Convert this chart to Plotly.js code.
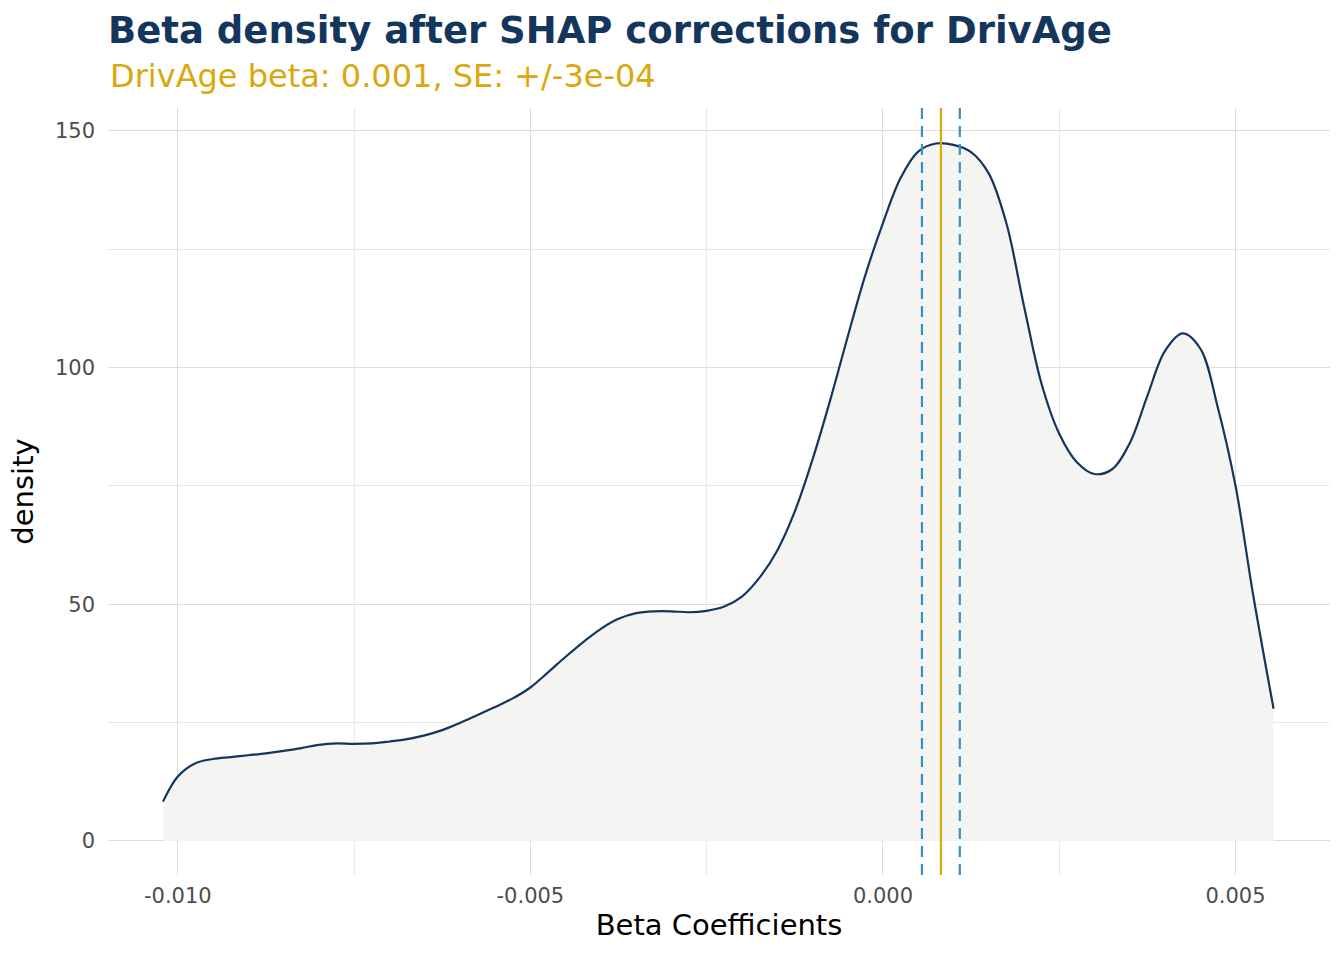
<!DOCTYPE html>
<html>
<head>
<meta charset="utf-8">
<script src="https://cdn.plot.ly/plotly-3.0.1.min.js"></script>
<style>html,body{margin:0;padding:0;background:#fff;}#chart{width:1344px;height:960px;}</style>
</head>
<body>
<div id="chart"></div>
<script>
// Density curve of beta coefficients
const betaValues = [-0.01021, -0.01000, -0.00975, -0.00950, -0.00925, -0.00900, -0.00875, -0.00850, -0.00825, -0.00800, -0.00775, -0.00750, -0.00725, -0.00700, -0.00675, -0.00650, -0.00625, -0.00600, -0.00575, -0.00550, -0.00525, -0.00500, -0.00475, -0.00450, -0.00425, -0.00400, -0.00375, -0.00350, -0.00325, -0.00300, -0.00275, -0.00250, -0.00225, -0.00200, -0.00175, -0.00150, -0.00125, -0.00100, -0.00075, -0.00050, -0.00025, 0.00000, 0.00025, 0.00050, 0.00075, 0.00100, 0.00125, 0.00150, 0.00175, 0.00200, 0.00225, 0.00250, 0.00275, 0.00300, 0.00325, 0.00350, 0.00375, 0.00400, 0.00425, 0.00450, 0.00475, 0.00500, 0.00525, 0.00554];
const densityValues = [8.3, 13.6, 16.4, 17.3, 17.7, 18.1, 18.5, 19.0, 19.6, 20.3, 20.6, 20.5, 20.6, 21.0, 21.5, 22.3, 23.4, 24.9, 26.6, 28.3, 30.1, 32.4, 35.6, 38.9, 42.0, 44.8, 46.9, 48.1, 48.5, 48.5, 48.3, 48.6, 49.5, 51.6, 55.6, 61.3, 69.6, 80.5, 93.0, 106.5, 119.5, 130.5, 140.0, 145.6, 147.3, 147.0, 145.5, 141.0, 130.5, 113.0, 96.5, 86.0, 80.0, 77.5, 78.5, 84.0, 94.0, 103.5, 107.2, 104.0, 91.5, 75.0, 52.0, 27.9];

// Reference lines
const betaEstimate = 0.000822;
const seLower = 0.000553;
const seUpper = 0.00109;

// Axis ticks
const xTickVals = [-0.010, -0.005, 0.000, 0.005];
const xTickText = ["-0.010", "-0.005", "0.000", "0.005"];
const yTickVals = [0, 50, 100, 150];
const yTickText = ["0", "50", "100", "150"];

const titleText = "Beta density after SHAP corrections for DrivAge";
const subtitleText = "DrivAge beta: 0.001, SE: +/-3e-04";

const traces = [{
  type: "scatter",
  mode: "lines",
  x: betaValues,
  y: densityValues,
  line: {color: "#14365D", width: 2.2, shape: "spline", smoothing: 1},
  fill: "tozeroy",
  fillcolor: "rgba(244,244,242,1)",
  hoverinfo: "x+y",
  showlegend: false
}];

const vline = (xv, color, dash) => ({
  type: "line", xref: "x", yref: "paper", x0: xv, x1: xv, y0: 0, y1: 1,
  line: {color: color, width: 2.2, dash: dash}, layer: "above"
});

const layout = {
  width: 1344, height: 960,
  paper_bgcolor: "#ffffff", plot_bgcolor: "#ffffff",
  margin: {l: 108, r: 14, t: 108, b: 85},
  font: {family: "DejaVu Sans, sans-serif", color: "#000"},
  title: {
    text: "<b>" + titleText + "</b>",
    font: {family: "DejaVu Sans, sans-serif", size: 37, color: "#14365D"},
    xref: "paper", x: 0, xanchor: "left",
    yref: "container", y: 0.969, yanchor: "middle"
  },
  annotations: [{
    text: subtitleText, xref: "paper", yref: "paper",
    x: 0, y: 1.0417, xanchor: "left", yanchor: "middle", showarrow: false,
    font: {family: "DejaVu Sans, sans-serif", size: 32, color: "#DAA80C"}
  }],
  xaxis: {
    range: [-0.01099, 0.00634],
    tickvals: xTickVals, ticktext: xTickText,
    showgrid: true, gridcolor: "#dcdcdc", gridwidth: 1.2,
    minor: {dtick: 0.0025, tick0: 0, showgrid: true, gridcolor: "#e8e8e8", gridwidth: 0.8},
    zeroline: false, showline: false, ticks: "",
    ticklabelstandoff: 6,
    tickfont: {size: 21, color: "#4d4d4d"},
    title: {text: "Beta Coefficients", font: {size: 29, color: "#000"}, standoff: 7}
  },
  yaxis: {
    range: [-7.2, 154.8],
    tickvals: yTickVals, ticktext: yTickText,
    showgrid: true, gridcolor: "#dcdcdc", gridwidth: 1.2,
    minor: {dtick: 25, tick0: 0, showgrid: true, gridcolor: "#e8e8e8", gridwidth: 0.8},
    zeroline: false, showline: false, ticks: "",
    ticklabelstandoff: 12,
    tickfont: {size: 21, color: "#4d4d4d"},
    title: {text: "density", font: {size: 29, color: "#000"}, standoff: 12}
  },
  shapes: [
    vline(seLower, "#3C8DC0", "11px,7px"),
    vline(seUpper, "#3C8DC0", "11px,7px"),
    vline(betaEstimate, "#DEA900", "solid")
  ]
};

Plotly.newPlot("chart", traces, layout, {displayModeBar: false, responsive: false});
</script>
</body>
</html>
